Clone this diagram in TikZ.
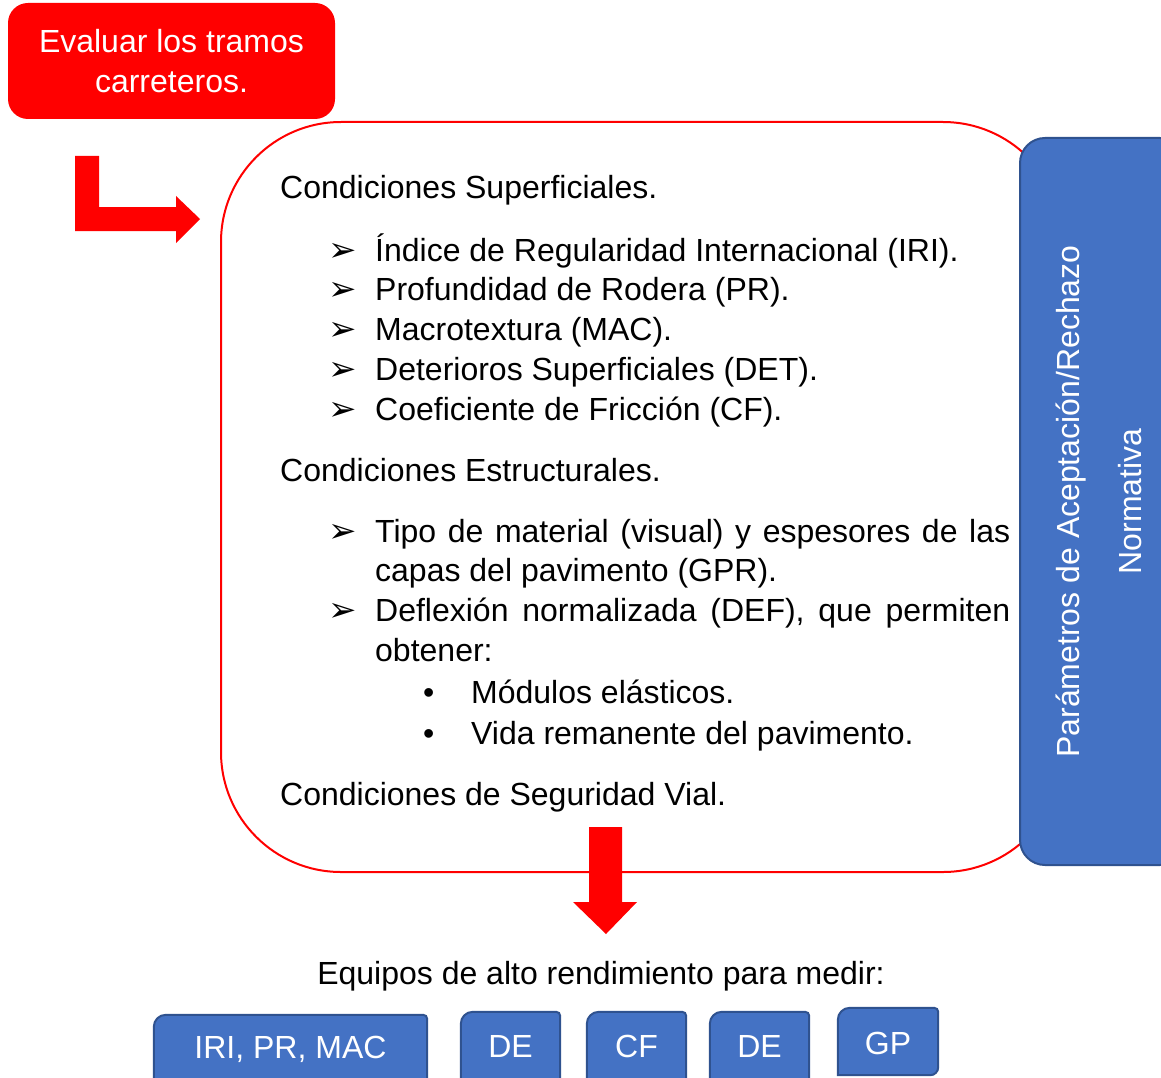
\documentclass[tikz,border=0pt]{standalone}
\usepackage{fontspec}
\setmainfont{Liberation Sans}
\newfontfamily\dingfont{DejaVu Sans}
\definecolor{vivid}{HTML}{FF0000}
\definecolor{boxblue}{HTML}{4472C4}
\definecolor{boxedge}{HTML}{2F528F}
\newcommand{\arrowmark}{{\dingfont\fontsize{34}{38}\selectfont ➢}}
% tab-like frame: large rounding top left, small rounding on the right
\newcommand{\tabframe}[2]{%
  \filldraw[boxframe] (#1.south west) [rounded corners=12pt] -- (#1.north west)
    [rounded corners=4pt] -- (#1.north east) [rounded corners=#2] -- (#1.south east)
    [sharp corners] -- cycle;}
\begin{document}
\begin{tikzpicture}[x=1pt,y=-1pt,
  bodytext/.style={font=\fontsize{32}{38}\selectfont, inner sep=0pt, anchor=base west},
  bulletmark/.style={font=\fontsize{32}{38}\selectfont, inner sep=0pt, anchor=base west},
  bluebox/.style={draw=boxedge, line width=2pt, fill=boxblue, text=white,
    font=\fontsize{32}{38}\selectfont, inner sep=0pt},
  tabbox/.style={text=white, font=\fontsize{32}{38}\selectfont, inner sep=0pt},
  boxframe/.style={draw=boxedge, line width=2pt, fill=boxblue},
  blockarrow/.style={fill=vivid, draw=none}]
\useasboundingbox (0,0) rectangle (1161,1078);

% starting box
\node[fill=vivid, rounded corners=20pt, minimum width=327pt, minimum height=116pt,
  text=white, font=\fontsize{32}{40}\selectfont, align=center, inner sep=0pt]
  (start) at (171.5,61) {Evaluar los tramos\\carreteros.};

% bent arrow towards the conditions panel
\coordinate (bendtop) at (75,156);
\fill[blockarrow] (bendtop) -- (99,156) -- (99,207) -- (176,207) -- (176,196)
  -- (200,219) -- (176,243) -- (176,231) -- (75,231) -- cycle;

% conditions panel
\node[draw=vivid, line width=2pt, fill=white, rounded corners=120pt,
  minimum width=842pt, minimum height=750pt, inner sep=0pt] (panel) at (642,497) {};

% acceptance / rejection side bar
\node[bluebox, rounded corners=25pt, minimum width=165pt, minimum height=727pt]
  (side) at (1102.5,501.5) {};
\node[text=white, font=\fontsize{32}{38}\selectfont, rotate=90, align=center, inner sep=0pt]
  (sidetext) at (1099,501.5) {Parámetros de Aceptación/Rechazo\\[24pt]Normativa};

% surface conditions
\node[bodytext] (sup) at (280,199) {Condiciones Superficiales.};
\node[bulletmark] (m1) at (328,261) {\arrowmark};
\node[bodytext] (s1) at (375,261) {Índice de Regularidad Internacional (IRI).};
\node[bulletmark] (m2) at (328,300) {\arrowmark};
\node[bodytext] (s2) at (375,300) {Profundidad de Rodera (PR).};
\node[bulletmark] (m3) at (328,340) {\arrowmark};
\node[bodytext] (s3) at (375,340) {Macrotextura (MAC).};
\node[bulletmark] (m4) at (328,380) {\arrowmark};
\node[bodytext] (s4) at (375,380) {Deterioros Superficiales (DET).};
\node[bulletmark] (m5) at (328,420) {\arrowmark};
\node[bodytext] (s5) at (375,420) {Coeficiente de Fricción (CF).};

% structural conditions
\node[bodytext] (est) at (280,481) {Condiciones Estructurales.};
\node[bulletmark] (m6) at (328,542) {\arrowmark};
\node[bodytext] (e1) at (375,542) {\makebox[635pt][s]{Tipo de material (visual) y espesores de las}};
\node[bodytext] (e1b) at (375,581) {capas del pavimento (GPR).};
\node[bulletmark] (m7) at (328,621) {\arrowmark};
\node[bodytext] (e2) at (375,621) {\makebox[635pt][s]{Deflexión normalizada (DEF), que permiten}};
\node[bodytext] (e2b) at (375,661) {obtener:};
\node[bulletmark] (b1) at (423,703) {•};
\node[bodytext] (e3) at (471,703) {Módulos elásticos.};
\node[bulletmark] (b2) at (423,744) {•};
\node[bodytext] (e4) at (471,744) {Vida remanente del pavimento.};

% road safety
\node[bodytext] (seg) at (280,805) {Condiciones de Seguridad Vial.};

% downward arrow
\coordinate (droptop) at (589,827);
\fill[blockarrow] (droptop) -- (622,827) -- (622,902) -- (637,902) -- (606,934)
  -- (573,902) -- (589,902) -- cycle;

% equipment
\node[font=\fontsize{32}{38}\selectfont, inner sep=0pt] (equipos) at (601,976)
  {Equipos de alto rendimiento para medir:};
\node[minimum width=273pt, minimum height=70pt] (iri) at (290.5,1050) {};
\node[minimum width=99pt, minimum height=70pt] (de1) at (510.5,1047) {};
\node[minimum width=99pt, minimum height=70pt] (cf) at (636.5,1047) {};
\node[minimum width=99pt, minimum height=70pt] (de2) at (759.5,1047) {};
\node[minimum width=100pt, minimum height=67pt] (gp) at (888,1041.5) {};
\tabframe{iri}{4pt}
\tabframe{de1}{4pt}
\tabframe{cf}{4pt}
\tabframe{de2}{4pt}
\tabframe{gp}{8pt}
\node[tabbox] (iritext) at (290.5,1049) {IRI, PR, MAC};
\node[tabbox] (de1text) at (510.5,1046) {DE};
\node[tabbox] (cftext) at (636.5,1046) {CF};
\node[tabbox] (de2text) at (759.5,1046) {DE};
\node[tabbox] (gptext) at (888,1043) {GP};
\end{tikzpicture}
\end{document}
